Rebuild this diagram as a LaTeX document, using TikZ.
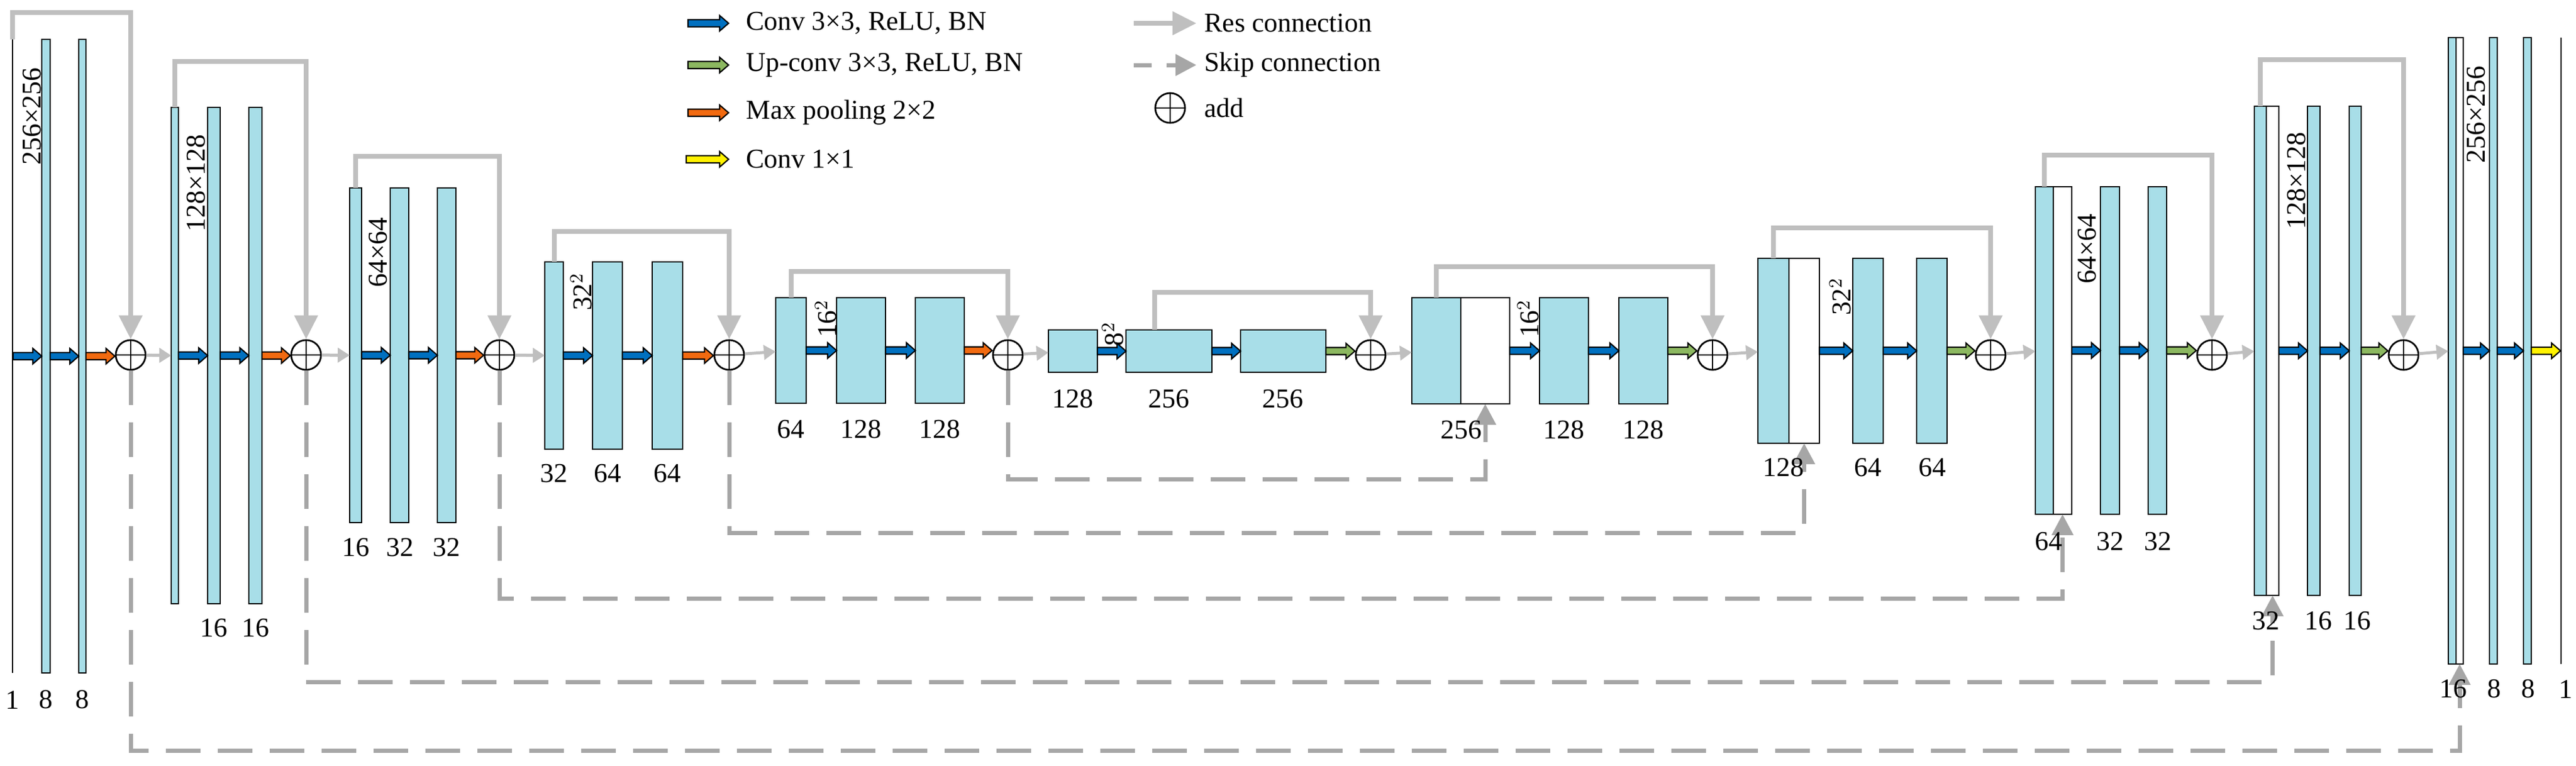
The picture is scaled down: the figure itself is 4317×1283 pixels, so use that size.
\documentclass[tikz,border=0pt]{standalone}
\usepackage{fontspec}
\setmainfont{Liberation Serif}
\usetikzlibrary{calc,arrows.meta}
\definecolor{cellblue}{HTML}{A8DEE8}
\definecolor{convblue}{HTML}{0070C0}
\definecolor{upgreen}{HTML}{8CB860}
\definecolor{poolorange}{HTML}{F26A10}
\definecolor{resgray}{HTML}{BFBFBF}
\definecolor{skipgray}{HTML}{A6A6A6}
\tikzset{
  layer/.style={draw, line width=0.6pt, fill=cellblue, inner sep=0pt, outer sep=0pt},
  catlayer/.style={draw, line width=0.6pt, fill=white, inner sep=0pt, outer sep=0pt},
  inlayer/.style={fill=black, inner sep=0pt, outer sep=0pt},
  add/.style={circle, draw, line width=0.8pt, minimum size=5mm, inner sep=0pt,
    path picture={\draw[line width=0.8pt] (path picture bounding box.north) -- (path picture bounding box.south)
      (path picture bounding box.west) -- (path picture bounding box.east);}},
  res/.style={draw=resgray, line width=0.8mm, -{Triangle[length=4mm,width=3.8mm]}},
  skip/.style={draw=skipgray, line width=0.7mm, dash pattern=on 5.8mm off 2.9mm, -{Triangle[length=3.5mm,width=3.5mm]}},
  pass/.style={draw=resgray, line width=0.5mm, -{Triangle[length=2mm,width=2.4mm]}},
  num/.style={font=\fontsize{13}{15}\selectfont},
  size/.style={font=\fontsize{13}{15}\selectfont, rotate=90},
  legend/.style={font=\fontsize{13}{15}\selectfont, anchor=west}
}
\newcommand{\layer}[6][layer]{\node[#1, minimum width={(#4-#3)*0.1mm}, minimum height={(#6-#5)*0.1mm}] (#2) at ({(#3+#4)/2},{(#5+#6)/2}) {};}
\newcommand{\fatarrow}[3]{\filldraw[fill=#1, line width=0.6pt, line join=miter] let \p1=(#2), \p2=(#3) in
  (\x1,\y1+0.6mm) -- (\x2-1.5mm,\y1+0.6mm) -- (\x2-1.5mm,\y1+1.3mm) -- (\x2,\y1)
  -- (\x2-1.5mm,\y1-1.3mm) -- (\x2-1.5mm,\y1-0.6mm) -- (\x1,\y1-0.6mm) -- cycle;}
\begin{document}
\begin{tikzpicture}[x=0.1mm, y=-0.1mm]
  \useasboundingbox (0,0) rectangle (4317,1283);

  % legend
  \coordinate (lg1a) at (1153,39);  \coordinate (lg1b) at (1221,39);
  \coordinate (lg2a) at (1153,109); \coordinate (lg2b) at (1221,109);
  \coordinate (lg3a) at (1153,189); \coordinate (lg3b) at (1221,189);
  \coordinate (lg4a) at (1150,267); \coordinate (lg4b) at (1221,267);
  \fatarrow{convblue}{lg1a}{lg1b}
  \fatarrow{upgreen}{lg2a}{lg2b}
  \fatarrow{poolorange}{lg3a}{lg3b}
  \fatarrow{yellow}{lg4a}{lg4b}
  \node[legend] (t1) at (1238,39) {Conv 3×3, ReLU, BN};
  \node[legend] (t2) at (1238,109) {Up-conv 3×3, ReLU, BN};
  \node[legend] (t3) at (1238,189) {Max pooling 2×2};
  \node[legend] (t4) at (1238,267) {Conv 1×1};
  \coordinate (lg5a) at (1900,39);  \coordinate (lg5b) at (2005,39);
  \coordinate (lg6a) at (1900,109); \coordinate (lg6b) at (2005,109);
  \draw[res] (lg5a) -- (lg5b);
  \draw[skip, dash pattern=on 3mm off 2.5mm] (lg6a) -- (lg6b);
  \node[add] (lgadd) at (1961,181) {};
  \node[legend] (t5) at (2006,39) {Res connection};
  \node[legend] (t6) at (2006,109) {Skip connection};
  \node[legend] (t7) at (2006,181) {add};

  % encoder
  \layer[inlayer]{L1a}{20}{22}{66}{1128}
  \layer{L1b}{70}{84}{66}{1128}
  \layer{L1c}{132}{144}{66}{1128}
  \node[add] (P1) at (219,595) {};
  \layer{L2a}{287}{299}{180}{1012}
  \layer{L2b}{348}{369}{180}{1012}
  \layer{L2c}{417}{439}{180}{1012}
  \node[add] (P2) at (513,595) {};
  \layer{L3a}{586}{606}{315}{876}
  \layer{L3b}{654}{685}{315}{876}
  \layer{L3c}{733}{764}{315}{876}
  \node[add] (P3) at (837,595) {};
  \layer{L4a}{913}{944}{439}{753}
  \layer{L4b}{993}{1043}{439}{753}
  \layer{L4c}{1093}{1144}{439}{753}
  \node[add] (P4) at (1222,595) {};
  \layer{L5a}{1300}{1351}{499}{676}
  \layer{L5b}{1402}{1484}{499}{676}
  \layer{L5c}{1534}{1616}{499}{676}
  \node[add] (P5) at (1689,595) {};
  \layer{L6a}{1757}{1839}{553}{624}
  \layer{L6b}{1887}{2031}{553}{624}
  \layer{L6c}{2079}{2222}{553}{624}
  \node[add] (P6) at (2297,595) {};

  % decoder
  \layer{L7a}{2366}{2448}{499}{677}
  \layer[catlayer]{L7w}{2448}{2530}{499}{677}
  \layer{L7b}{2580}{2662}{499}{677}
  \layer{L7c}{2713}{2795}{499}{677}
  \node[add] (P7) at (2870,595) {};
  \layer{L8a}{2946}{2998}{433}{743}
  \layer[catlayer]{L8w}{2998}{3049}{433}{743}
  \layer{L8b}{3105}{3156}{433}{743}
  \layer{L8c}{3212}{3263}{433}{743}
  \node[add] (P8) at (3336,595) {};
  \layer{L9a}{3411}{3441}{313}{862}
  \layer[catlayer]{L9w}{3441}{3472}{313}{862}
  \layer{L9b}{3520}{3552}{313}{862}
  \layer{L9c}{3600}{3631}{313}{862}
  \node[add] (P9) at (3707,595) {};
  \layer{L10a}{3778}{3798}{178}{998}
  \layer[catlayer]{L10w}{3798}{3819}{178}{998}
  \layer{L10b}{3867}{3888}{178}{998}
  \layer{L10c}{3937}{3957}{178}{998}
  \node[add] (P10) at (4028,595) {};
  \layer{L11a}{4103}{4116}{63}{1113}
  \layer[catlayer]{L11w}{4116}{4128}{63}{1113}
  \layer{L11b}{4172}{4185}{63}{1113}
  \layer{L11c}{4229}{4242}{63}{1113}
  \layer[inlayer]{L11d}{4291}{4293}{63}{1113}

  % block arrows
  \fatarrow{convblue}{L1a.east}{L1b.west}
  \fatarrow{convblue}{L1b.east}{L1c.west}
  \fatarrow{poolorange}{L1c.east}{P1.west}
  \fatarrow{convblue}{L2a.east}{L2b.west}
  \fatarrow{convblue}{L2b.east}{L2c.west}
  \fatarrow{poolorange}{L2c.east}{P2.west}
  \fatarrow{convblue}{L3a.east}{L3b.west}
  \fatarrow{convblue}{L3b.east}{L3c.west}
  \fatarrow{poolorange}{L3c.east}{P3.west}
  \fatarrow{convblue}{L4a.east}{L4b.west}
  \fatarrow{convblue}{L4b.east}{L4c.west}
  \fatarrow{poolorange}{L4c.east}{P4.west}
  \fatarrow{convblue}{L5a.east}{L5b.west}
  \fatarrow{convblue}{L5b.east}{L5c.west}
  \fatarrow{poolorange}{L5c.east}{P5.west}
  \fatarrow{convblue}{L6a.east}{L6b.west}
  \fatarrow{convblue}{L6b.east}{L6c.west}
  \fatarrow{upgreen}{L6c.east}{P6.west}
  \fatarrow{convblue}{L7w.east}{L7b.west}
  \fatarrow{convblue}{L7b.east}{L7c.west}
  \fatarrow{upgreen}{L7c.east}{P7.west}
  \fatarrow{convblue}{L8w.east}{L8b.west}
  \fatarrow{convblue}{L8b.east}{L8c.west}
  \fatarrow{upgreen}{L8c.east}{P8.west}
  \fatarrow{convblue}{L9w.east}{L9b.west}
  \fatarrow{convblue}{L9b.east}{L9c.west}
  \fatarrow{upgreen}{L9c.east}{P9.west}
  \fatarrow{convblue}{L10w.east}{L10b.west}
  \fatarrow{convblue}{L10b.east}{L10c.west}
  \fatarrow{upgreen}{L10c.east}{P10.west}
  \fatarrow{convblue}{L11w.east}{L11b.west}
  \fatarrow{convblue}{L11b.east}{L11c.west}
  \fatarrow{yellow}{L11c.east}{L11d.west}

  % pass-on arrows
  \draw[pass] (P1) -- (L2a);
  \draw[pass] (P2) -- (L3a);
  \draw[pass] (P3) -- (L4a);
  \draw[pass] (P4) -- (L5a);
  \draw[pass] (P5) -- (L6a);
  \draw[pass] (P6) -- (L7a);
  \draw[pass] (P7) -- (L8a);
  \draw[pass] (P8) -- (L9a);
  \draw[pass] (P9) -- (L10a);
  \draw[pass] (P10) -- (L11a);

  % res connections
  \draw[res] (L1a.north) -- (L1a.north |- 0,21) -| (P1.north);
  \draw[res] (L2a.north) -- (L2a.north |- 0,103) -| (P2.north);
  \draw[res] (L3a.north) -- (L3a.north |- 0,262) -| (P3.north);
  \draw[res] (L4a.north) -- (L4a.north |- 0,388) -| (P4.north);
  \draw[res] (L5a.north) -- (L5a.north |- 0,455) -| (P5.north);
  \draw[res] ([xshift=-2.4mm]L6b.north) -- ([xshift=-2.4mm]L6b.north |- 0,490) -| (P6.north);
  \draw[res] (L7a.north) -- (L7a.north |- 0,447) -| (P7.north);
  \draw[res] (L8a.north) -- (L8a.north |- 0,382) -| (P8.north);
  \draw[res] (L9a.north) -- (L9a.north |- 0,260) -| (P9.north);
  \draw[res] (L10a.north) -- (L10a.north |- 0,100) -| (P10.north);

  % skip connections
  \draw[skip] (P1.south) -- (P1.south |- 0,1258) -| (L11w.south);
  \draw[skip] (P2.south) -- (P2.south |- 0,1143) -| (L10w.south);
  \draw[skip] (P3.south) -- (P3.south |- 0,1003) -| (L9w.south);
  \draw[skip] (P4.south) -- (P4.south |- 0,893) -| (L8w.south);
  \draw[skip] (P5.south) -- (P5.south |- 0,803) -| (L7w.south);

  % sizes
  \node[size] (s1) at (54,195) {256×256};
  \node[size] (s2) at (329,307) {128×128};
  \node[size] (s3) at (634,423) {64×64};
  \node[size] (s4) at (974,489) {32$^2$};
  \node[size] (s5) at (1384,534) {16$^2$};
  \node[size] (s6) at (1865,560) {8$^2$};
  \node[size] (s7) at (2561,534) {16$^2$};
  \node[size] (s8) at (3084,497) {32$^2$};
  \node[size] (s9) at (3498,417) {64×64};
  \node[size] (s10) at (3848,303) {128×128};
  \node[size] (s11) at (4150,192) {256×256};

  % channels
  \foreach \x/\n in {21/1, 77/8, 138/8} \node[num] at (\x,1173) {\n};
  \foreach \x/\n in {358/16, 428/16} \node[num] at (\x,1053) {\n};
  \foreach \x/\n in {596/16, 670/32, 748/32} \node[num] at (\x,918) {\n};
  \foreach \x/\n in {928/32, 1018/64, 1118/64} \node[num] at (\x,794) {\n};
  \foreach \x/\n in {1325/64, 1443/128, 1575/128} \node[num] at (\x,720) {\n};
  \foreach \x/\n in {1798/128, 1959/256, 2150/256} \node[num] at (\x,669) {\n};
  \foreach \x/\n in {2449/256, 2621/128, 2754/128} \node[num] at (\x,721) {\n};
  \foreach \x/\n in {2989/128, 3130/64, 3238/64} \node[num] at (\x,784) {\n};
  \foreach \x/\n in {3433/64, 3536/32, 3616/32} \node[num] at (\x,908) {\n};
  \foreach \x/\n in {3797/32, 3885/16, 3950/16} \node[num] at (\x,1041) {\n};
  \foreach \x/\n in {4111/16, 4180/8, 4237/8, 4300/1} \node[num] at (\x,1155) {\n};
\end{tikzpicture}
\end{document}
